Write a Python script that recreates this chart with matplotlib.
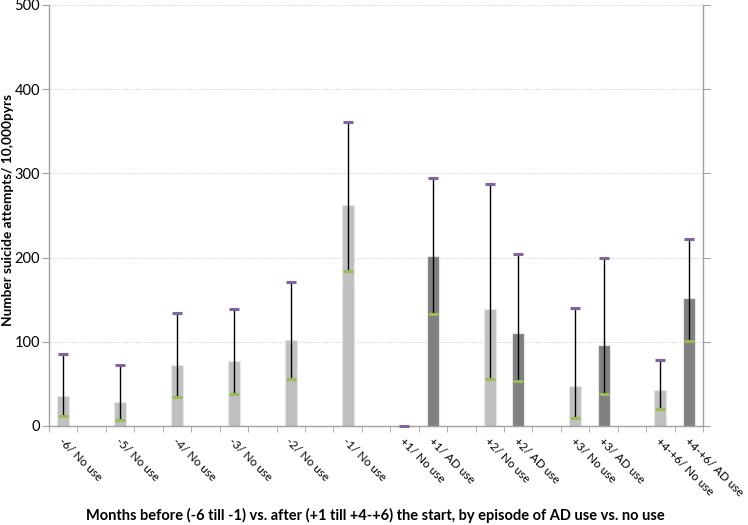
import matplotlib
matplotlib.use("Agg")
import matplotlib.pyplot as plt
import matplotlib.transforms as mtransforms
import numpy as np

plt.rcParams['font.family'] = ['Lato', 'DejaVu Sans']

# slot labels ('' = empty slot)
labels = ['-6/ No use', '', '-5/ No use', '', '-4/ No use', '', '-3/ No use', '',
          '-2/ No use', '', '-1/ No use', '', '+1/ No use', '+1/ AD use', '',
          '+2/ No use', '+2/ AD use', '', '+3/ No use', '+3/ AD use', '',
          '+4-+6/ No use', '+4-+6/ AD use']
# group: 0 = No use, 1 = AD use, None = empty
groups = [0, None, 0, None, 0, None, 0, None, 0, None, 0, None, 0, 1, None,
          0, 1, None, 0, 1, None, 0, 1]
values = [36, None, 28, None, 73, None, 77.5, None, 102, None, 262, None, 0, 202, None,
          139, 110.5, None, 47.5, 96, None, 42.5, 152]
upper = [85.5, None, 72.5, None, 134.5, None, 139, None, 171.5, None, 361, None, 0, 294, None,
         287, 204, None, 140, 199, None, 78.5, 222]
lower = [12, None, 7.5, None, 35, None, 38.5, None, 56, None, 184.5, None, 0, 133, None,
         55.5, 53, None, 10, 38.5, None, 20.5, 100.5]

colors = {0: '#c0c0c0', 1: '#808080'}

fig = plt.figure(figsize=(7.48, 5.25), dpi=100)
ax = fig.add_axes([0.0655, 0.1886, 0.8745, 0.8019])

n = len(labels)
x = np.arange(n)
for i in range(n):
    if groups[i] is None:
        continue
    ax.bar(x[i], values[i], width=0.42, color=colors[groups[i]],
           edgecolor='#e8e8e8', linewidth=0.8, zorder=2)
    ax.plot([x[i], x[i]], [lower[i], upper[i]], color='black', lw=1.0, zorder=3)
    ax.plot(x[i], upper[i], marker='_', ms=7, mew=2.2, color='#8064A2', zorder=4,
            clip_on=False)
    if not (upper[i] == 0 and lower[i] == 0):
        ax.plot(x[i], lower[i], marker='_', ms=7, mew=2.2, color='#9BBB59', zorder=4)

ax.set_xlim(-0.5, n - 0.5)
ax.set_ylim(0, 500)
ax.set_yticks([0, 100, 200, 300, 400, 500])
ax.yaxis.grid(True, linestyle=(0, (1, 1.5)), color='#d0d0d0', lw=0.8, zorder=0)
ax.set_axisbelow(True)

ax.set_xticks(x)
ax.set_xticklabels(labels, rotation=-45, ha='left', va='top', rotation_mode='anchor',
                   fontsize=8.5)
ax.tick_params(axis='x', which='major', length=0, pad=7)
offset = mtransforms.ScaledTranslation(1 / 100, 0, fig.dpi_scale_trans)
for lab in ax.get_xticklabels():
    lab.set_transform(lab.get_transform() + offset)
ax.set_xticks(np.arange(-0.5, n + 0.5, 1), minor=True)
ax.tick_params(axis='x', which='minor', length=4, color='#a0a0a0', direction='out')

ax.tick_params(axis='y', which='major', length=5, color='#a0a0a0', labelsize=10.5,
               right=True, direction='out', pad=1.5)

for s in ['left', 'right', 'bottom']:
    ax.spines[s].set_color('#a0a0a0')
    ax.spines[s].set_linewidth(1.0)
ax.spines['top'].set_visible(False)

fig.text(8 / 748, 1 - 210 / 525, 'Number suicide attempts/ 10,000pyrs', rotation=90,
         ha='center', va='center', fontsize=9.8, fontweight='bold')
fig.text(0.502, 1 - 515 / 525,
         'Months before (-6 till -1) vs. after (+1 till +4-+6) the start, by episode of AD use vs. no use',
         ha='center', va='center', fontsize=10.5, fontweight='bold')

fig.savefig('out.png', dpi=100)
